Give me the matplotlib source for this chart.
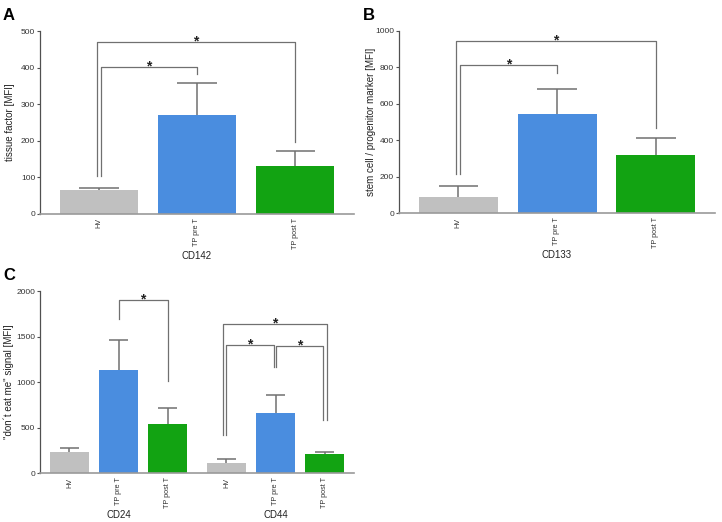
import matplotlib.pyplot as plt
import numpy as np

plt.rcParams['font.family'] = ['Liberation Sans', 'DejaVu Sans']

# Data (MFI, mean and upper error)
groups = ['HV', 'TP pre T', 'TP post T']
colors = ['#c0c0c0', '#4a8ddf', '#12a312']

cd142_mean = [65, 270, 130]
cd142_err = [7, 88, 42]

cd133_mean = [88, 545, 320]
cd133_err = [64, 135, 92]

cd24_mean = [237, 1134, 541]
cd24_err = [44, 331, 172]

cd44_mean = [116, 658, 212]
cd44_err = [37, 198, 25]

# significance brackets: (x left, x right, top, left leg bottom, right leg bottom)
sig_a = [(0.02, 1.0, 403, 105, 382), (-0.02, 2.0, 469, 105, 197)]
sig_b = [(0.02, 1.0, 812, 213, 770), (-0.025, 2.0, 942, 213, 469)]
sig_c = [(1.0, 2.0, 1902, 1690, 1016),
         (3.13, 5.25, 1635, 424, 585),
         (3.2, 4.16, 1408, 424, 1163),
         (4.22, 5.17, 1400, 1163, 585)]

W, H = 722, 522
fig = plt.figure(figsize=(W / 100, H / 100), dpi=100)


def px_axes(x0, x1, y_top, y_bot):
    return fig.add_axes([x0 / W, 1 - y_bot / H, (x1 - x0) / W, (y_bot - y_top) / H])


def style(ax, ymax, ystep, ylabel, xlim, label_x):
    ax.set_xlim(*xlim)
    ax.set_ylim(0, ymax)
    ax.set_yticks(np.arange(0, ymax + 1, ystep))
    for s in ['top', 'right']:
        ax.spines[s].set_visible(False)
    ax.spines['left'].set_color('#505050')
    ax.spines['bottom'].set_color('#9a9a9a')
    ax.spines['left'].set_linewidth(0.9)
    ax.spines['bottom'].set_linewidth(1.2)
    ax.tick_params(axis='y', length=2.5, width=0.8, color='#505050', labelsize=6,
                   labelcolor='#333333', pad=1)
    ax.tick_params(axis='x', length=0, labelsize=5.2, labelcolor='#333333',
                   labelrotation=90, pad=3)
    ax.set_ylabel(ylabel, fontsize=7, color='#222222')
    ax.yaxis.set_label_coords(label_x, 0.5)


def bars(ax, pos, mean, err):
    pos = np.array(pos)
    top = np.array(mean) + np.array(err)
    ax.bar(pos, mean, width=0.8, color=colors, zorder=2)
    ax.vlines(pos, mean, top, color='#707070', lw=1.1, zorder=1)
    ax.hlines(top, pos - 0.2, pos + 0.2, color='#707070', lw=1.1, zorder=1)


def brackets(ax, sig):
    for x1, x2, top, b1, b2 in sig:
        ax.plot([x1, x1, x2, x2], [b1, top, top, b2], color='#707070', lw=0.9,
                clip_on=False, zorder=3)
        ax.annotate('*', xy=((x1 + x2) / 2, top), xytext=(0, -2.5),
                    textcoords='offset points', ha='center', va='baseline',
                    fontsize=10, fontweight='bold', color='#222222')


def group_label(ax, x, text):
    ax.annotate(text, xy=(x, 0), xycoords=('data', 'axes fraction'),
                xytext=(0, -30), textcoords='offset points',
                ha='center', va='center', fontsize=7, color='#222222')


# Panel A
ax_a = px_axes(40, 354, 31, 214)
bars(ax_a, [0, 1, 2], cd142_mean, cd142_err)
style(ax_a, 500, 100, 'tissue factor [MFI]', (-0.6, 2.6), -0.08)
ax_a.set_xticks([0, 1, 2])
ax_a.set_xticklabels(groups)
brackets(ax_a, sig_a)
group_label(ax_a, 1, 'CD142')

# Panel B
ax_b = px_axes(399, 715, 30.7, 213.3)
bars(ax_b, [0, 1, 2], cd133_mean, cd133_err)
style(ax_b, 1000, 200, 'stem cell / progenitor marker [MFI]', (-0.6, 2.6), -0.073)
ax_b.set_xticks([0, 1, 2])
ax_b.set_xticklabels(groups)
brackets(ax_b, sig_b)
group_label(ax_b, 1, 'CD133')

# Panel C
ax_c = px_axes(40, 354, 291, 473.3)
pos24 = [0, 1, 2]
pos44 = [3.2, 4.2, 5.2]
bars(ax_c, pos24, cd24_mean, cd24_err)
bars(ax_c, pos44, cd44_mean, cd44_err)
style(ax_c, 2000, 500, '"don\u00b4t eat me" signal [MFI]', (-0.6, 5.8), -0.083)
ax_c.set_xticks(pos24 + pos44)
ax_c.set_xticklabels(groups + groups)
brackets(ax_c, sig_c)
group_label(ax_c, 1, 'CD24')
group_label(ax_c, 4.2, 'CD44')

# panel letters
fig.text(3 / W, 1 - 8 / H, 'A', fontsize=12, fontweight='bold', va='top', ha='left')
fig.text(363 / W, 1 - 8 / H, 'B', fontsize=12, fontweight='bold', va='top', ha='left')
fig.text(3 / W, 1 - 268 / H, 'C', fontsize=12, fontweight='bold', va='top', ha='left')

fig.savefig('out.png', dpi=100)
